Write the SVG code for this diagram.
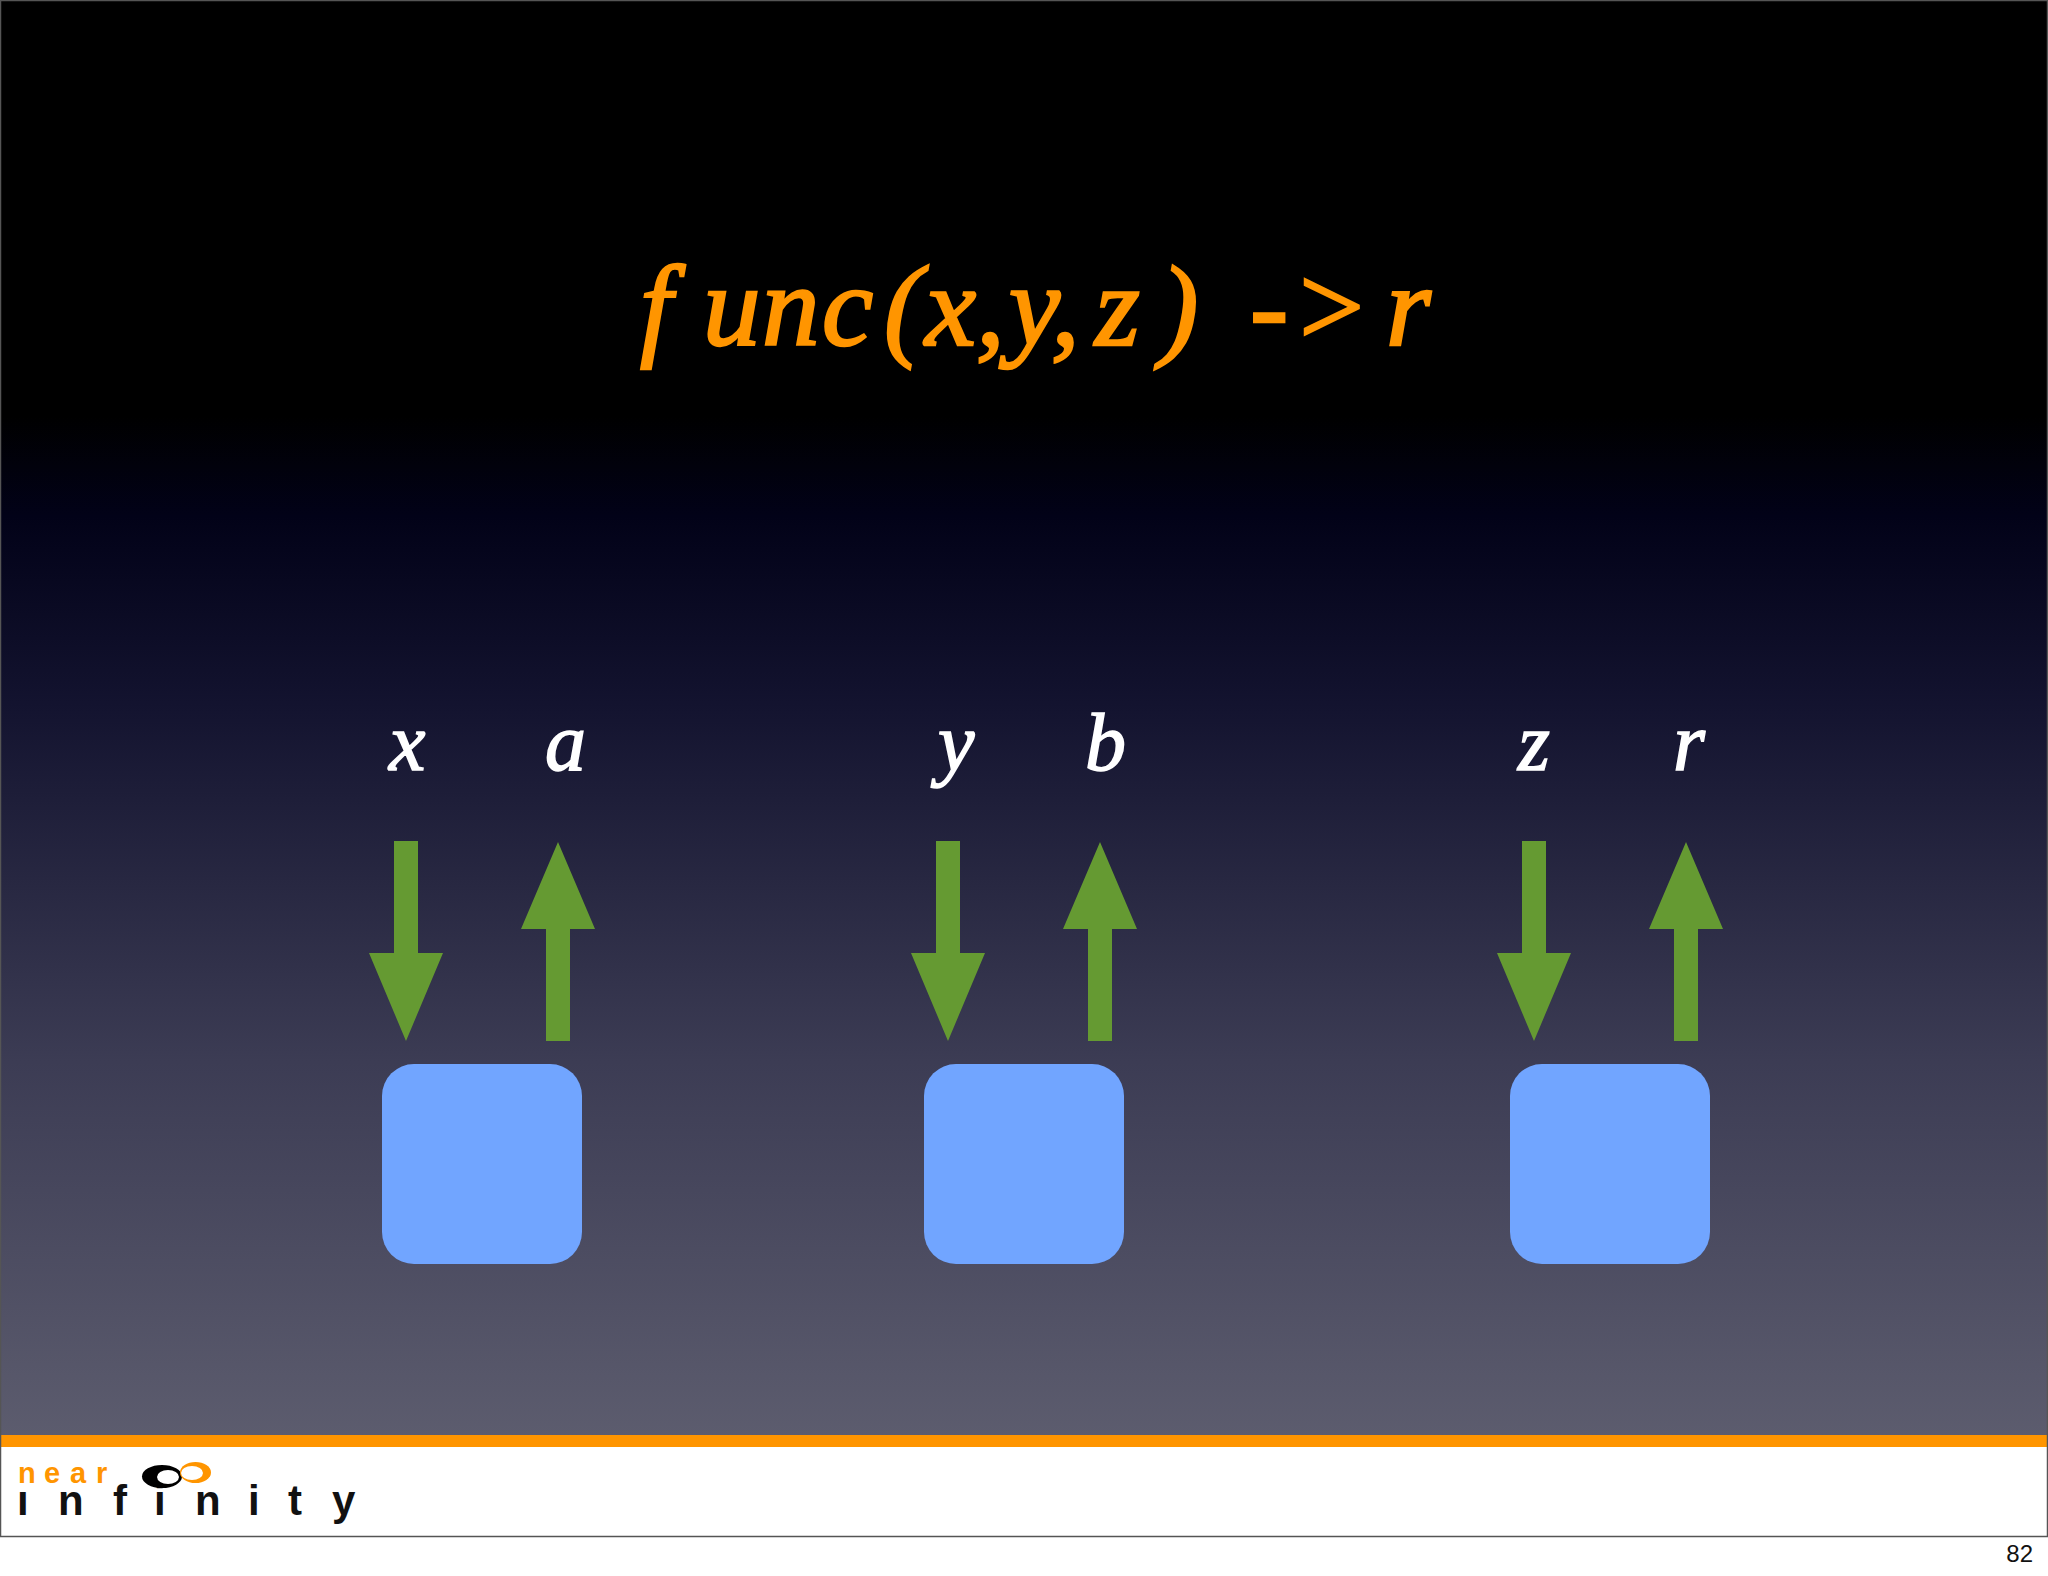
<svg xmlns="http://www.w3.org/2000/svg" width="2048" height="1576" viewBox="0 0 2048 1576">
<style>
.hand{font-family:"Liberation Serif","DejaVu Serif",serif;font-style:italic}
.label{font-size:82px;fill:#fff;stroke:#fff;stroke-width:1.5px}
.title{font-size:115px;fill:#ff9500;stroke:#ff9500;stroke-width:2.5px}
.box{fill:#71a5ff}
.arrow{fill:#659a32}
.logo{font-family:"Liberation Sans",Arial,sans-serif;font-weight:700}
</style>
<defs>
<linearGradient id="bg" x1="0" y1="0" x2="0" y2="1">
<stop offset="0" stop-color="#000"/>
<stop offset="0.29" stop-color="#000"/>
<stop offset="0.36" stop-color="#020218"/>
<stop offset="0.49" stop-color="#13132f"/>
<stop offset="0.74" stop-color="#3c3c54"/>
<stop offset="1" stop-color="#5c5c6e"/>
</linearGradient>
<clipPath id="noDot"><rect x="0" y="1491" width="400" height="40"/><rect x="45" y="1450" width="355" height="45"/></clipPath>
</defs>
<rect width="2048" height="1576" fill="#fff"/>
<rect id="slide" x="0" y="0" width="2048" height="1435" fill="url(#bg)"/>
<rect id="band" x="0" y="1435" width="2048" height="12" fill="#ff9500"/>
<rect id="frame" x="0.5" y="0.5" width="2047" height="1536" fill="none" stroke="#555" stroke-width="1.5"/>

<g id="title">
<text class="hand title" x="640 703 762 822 884 925 976 1009 1051 1095 1160 1215 1250 1292 1370 1386" y="345">func(x,y,z) -&gt; r</text>
</g>

<g id="labels">
<text class="hand label" x="389" y="770">x</text>
<text class="hand label" x="545" y="770">a</text>
<text class="hand label" x="938" y="770">y</text>
<text class="hand label" x="1085" y="770">b</text>
<text class="hand label" x="1518" y="770">z</text>
<text class="hand label" x="1673" y="770">r</text>
</g>

<g id="connectors">
<polygon id="a1" class="arrow" points="394,841 418,841 418,953 443,953 406,1041 369,953 394,953"/>
<polygon id="a2" class="arrow" points="546,1041 570,1041 570,929 595,929 558,842 521,929 546,929"/>
<polygon id="a3" class="arrow" points="936,841 960,841 960,953 985,953 948,1041 911,953 936,953"/>
<polygon id="a4" class="arrow" points="1088,1041 1112,1041 1112,929 1137,929 1100,842 1063,929 1088,929"/>
<polygon id="a5" class="arrow" points="1522,841 1546,841 1546,953 1571,953 1534,1041 1497,953 1522,953"/>
<polygon id="a6" class="arrow" points="1674,1041 1698,1041 1698,929 1723,929 1686,842 1649,929 1674,929"/>
</g>

<g id="node-1"><rect class="box" x="382" y="1064" width="200" height="200" rx="32"/></g>
<g id="node-2"><rect class="box" x="924" y="1064" width="200" height="200" rx="32"/></g>
<g id="node-3"><rect class="box" x="1510" y="1064" width="200" height="200" rx="32"/></g>

<g id="logo">
<text class="logo" font-size="29" fill="#ff9500" x="18 44 70 96" y="1483">near</text>
<text class="logo" font-size="42" fill="#111" clip-path="url(#noDot)" x="17 58 113 154 195 248 288 332" y="1515">infinity</text>
<ellipse cx="162" cy="1476.500" rx="20" ry="11.500" fill="#000"/>
<ellipse cx="168" cy="1477" rx="11" ry="7" fill="#fff"/>
<ellipse cx="195.500" cy="1472.500" rx="15.500" ry="10.500" fill="#ff9500"/>
<ellipse cx="192" cy="1473" rx="11" ry="7" fill="#fff"/>
</g>

<text id="page" x="2033" y="1562" text-anchor="end" font-family="'Liberation Sans',Arial,sans-serif" font-size="24" fill="#111">82</text>
</svg>
